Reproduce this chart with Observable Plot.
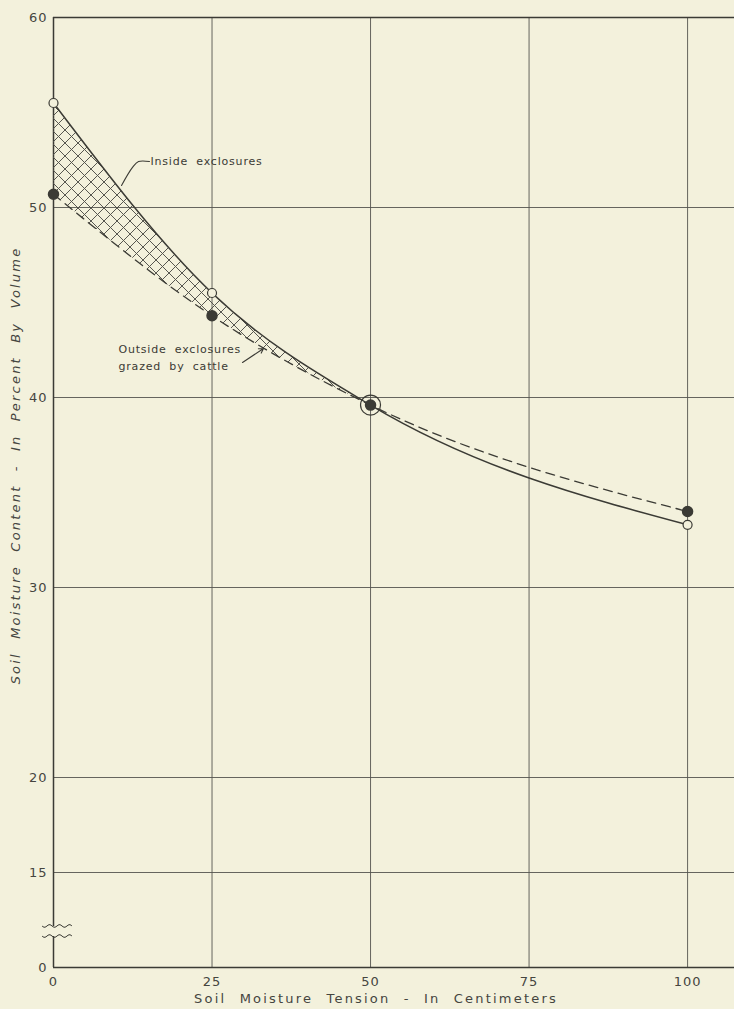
<!DOCTYPE html>
<html>
<head>
<meta charset="utf-8">
<script src="https://cdn.jsdelivr.net/npm/d3@7"></script>
<script src="https://cdn.jsdelivr.net/npm/@observablehq/plot@0.6"></script>
<style>
  html, body { margin: 0; padding: 0; background: #f3f1dc; }
  #chart svg { display: block; }
  #chart svg text { letter-spacing: 1px; }
</style>
</head>
<body>
<div id="chart"></div>
<script>
// ---- data ----
const tension = [0, 25, 50, 100];                 // cm
const insideExclosures = [55.5, 45.5, 39.6, 33.3]; // % by volume
const outsideGrazed = [50.7, 44.3, 39.6, 34.0];    // % by volume

const xTicks = [0, 25, 50, 75, 100];
const xTickLabels = ["0", "25", "50", "75", "100"];
const yTicks = [10, 15, 20, 30, 40, 50, 60];        // 10 is the broken-axis "0"
const yTickLabels = ["0", "15", "20", "30", "40", "50", "60"];
const xGrid = [25, 50, 75, 100];
const yGrid = [15, 20, 30, 40, 50];
const yBreak = [11.63, 12.16];

const xTitle = "Soil Moisture Tension - In Centimeters";
const yTitle = "Soil Moisture Content - In Percent By Volume";

const insideLabel = [{x: 15.3, y: 52.42, text: "Inside exclosures"}];
const insideLeader = [
  {x: 15.14, y: 52.42}, {x: 13.41, y: 52.42}, {x: 12.46, y: 52.11}, {x: 10.73, y: 51.16}
];
const outsideLabel = [
  {x: 10.25, y: 42.53, text: "Outside exclosures"},
  {x: 10.25, y: 41.63, text: "grazed by cattle"}
];
const outsideArrow = [{x1: 29.81, y1: 41.84, x2: 33.12, y2: 42.58}];

// ---- table ----
const rows = tension.map((x, i) => ({x, inside: insideExclosures[i], outside: outsideGrazed[i]}));
const isCoincident = d => Math.abs(d.inside - d.outside) < 0.05;
const hatchEnd = d3.max(rows.filter(isCoincident), d => d.x);

const ink = "#3b3b35";
const bg = "#f3f1dc";
const curve = "monotone-x";

const chart = Plot.plot({
  width: 734,
  height: 1009,
  marginTop: 17,
  marginLeft: 53,
  marginRight: 0,
  marginBottom: 42,
  style: {background: bg, fontFamily: "DejaVu Sans, sans-serif", fontSize: "13px", color: "#45453f"},
  x: {domain: [0, 107.4], ticks: xTicks, tickFormat: d => xTickLabels[xTicks.indexOf(d)], tickSize: 0, tickPadding: 9, label: null},
  y: {domain: [10, 60], ticks: yTicks, tickFormat: d => yTickLabels[yTicks.indexOf(d)], tickSize: 0, tickPadding: 6, label: null},
  marks: [
    Plot.ruleY(yGrid, {stroke: "#55554f", strokeWidth: 0.9}),
    Plot.ruleX(xGrid, {y1: 10, y2: 60, stroke: "#55554f", strokeWidth: 0.9}),
    Plot.ruleY([60], {stroke: ink, strokeWidth: 1.4}),
    Plot.ruleY([10], {stroke: ink, strokeWidth: 1.6}),
    Plot.ruleX([0], {y1: yBreak[1], y2: 60, stroke: ink, strokeWidth: 1.5}),
    Plot.ruleX([0], {y1: 10, y2: yBreak[0], stroke: ink, strokeWidth: 1.5}),
    Plot.areaY(rows, {x: "x", y1: "outside", y2: "inside", curve, fill: "#777"}),
    Plot.line(rows, {x: "x", y: "inside", curve, stroke: ink, strokeWidth: 1.5}),
    Plot.line(rows, {x: "x", y: "outside", curve, stroke: ink, strokeWidth: 1.3, strokeDasharray: "9,6"}),
    Plot.dot(rows, {filter: d => !isCoincident(d), x: "x", y: "inside", r: 4.5, fill: bg, stroke: ink, strokeWidth: 1.2}),
    Plot.dot(rows, {filter: isCoincident, x: "x", y: "inside", r: 10, fill: "none", stroke: ink, strokeWidth: 1.2}),
    Plot.dot(rows, {x: "x", y: "outside", r: 5, fill: ink, stroke: ink}),
    Plot.line(insideLeader, {x: "x", y: "y", curve: "catmull-rom", stroke: ink, strokeWidth: 1.1}),
    Plot.text(insideLabel, {x: "x", y: "y", text: "text", textAnchor: "start", fontSize: 11, fill: "#3b3b35"}),
    Plot.text(outsideLabel, {x: "x", y: "y", text: "text", textAnchor: "start", fontSize: 11, fill: "#3b3b35"}),
    Plot.arrow(outsideArrow, {x1: "x1", y1: "y1", x2: "x2", y2: "y2", stroke: ink, strokeWidth: 1.1, headLength: 7, bend: 0}),
    Plot.text([xTitle], {frameAnchor: "bottom", textAnchor: "middle", dy: 35, dx: -18, fontSize: 13, fill: "#45453f"}),
    Plot.text([yTitle], {frameAnchor: "left", textAnchor: "middle", dx: -38, dy: -27, rotate: -90, fontSize: 13, fontStyle: "italic", fill: "#45453f"})
  ]
});

// hatch pattern + clip for the shaded region (up to where the curves coincide)
const svg = d3.select(chart);
const xs = chart.scale("x"), ys = chart.scale("y");
const defs = svg.insert("defs", ":first-child");
const pat = defs.append("pattern").attr("id", "xhatch").attr("patternUnits", "userSpaceOnUse")
  .attr("width", 13).attr("height", 13);
pat.append("path").attr("d", "M0,0L13,13M13,0L0,13M-1,12L1,14M12,-1L14,1")
  .attr("stroke", "#4f4f49").attr("stroke-width", 0.95).attr("fill", "none");
defs.append("clipPath").attr("id", "hatchclip").append("rect")
  .attr("x", xs.apply(0)).attr("y", ys.apply(60))
  .attr("width", xs.apply(hatchEnd) - xs.apply(0)).attr("height", ys.apply(10) - ys.apply(60));
svg.selectAll('g[aria-label="area"]').attr("clip-path", "url(#hatchclip)")
  .selectAll("path").attr("fill", "url(#xhatch)");
svg.selectAll('g[aria-label="area"]').attr("fill", "url(#xhatch)");

// axis break symbol
const x0 = xs.apply(0);
yBreak.forEach(v => {
  const y = ys.apply(v);
  const pts = d3.range(0, 31, 1).map(t => [x0 - 11 + t, y + 1.4 * Math.sin(t / 30 * Math.PI * 6)]);
  svg.append("path").attr("d", d3.line().curve(d3.curveBasis)(pts))
    .attr("fill", "none").attr("stroke", ink).attr("stroke-width", 1);
});

// lettering spacing
svg.selectAll("text").each(function() {
  const t = this.textContent;
  if (t === xTitle || t === yTitle) d3.select(this).style("letter-spacing", "2.2px").style("word-spacing", "7px");
  else if (/ /.test(t)) d3.select(this).style("letter-spacing", "0.8px").style("word-spacing", "4px");
});

document.getElementById("chart").appendChild(chart);
</script>
</body>
</html>
